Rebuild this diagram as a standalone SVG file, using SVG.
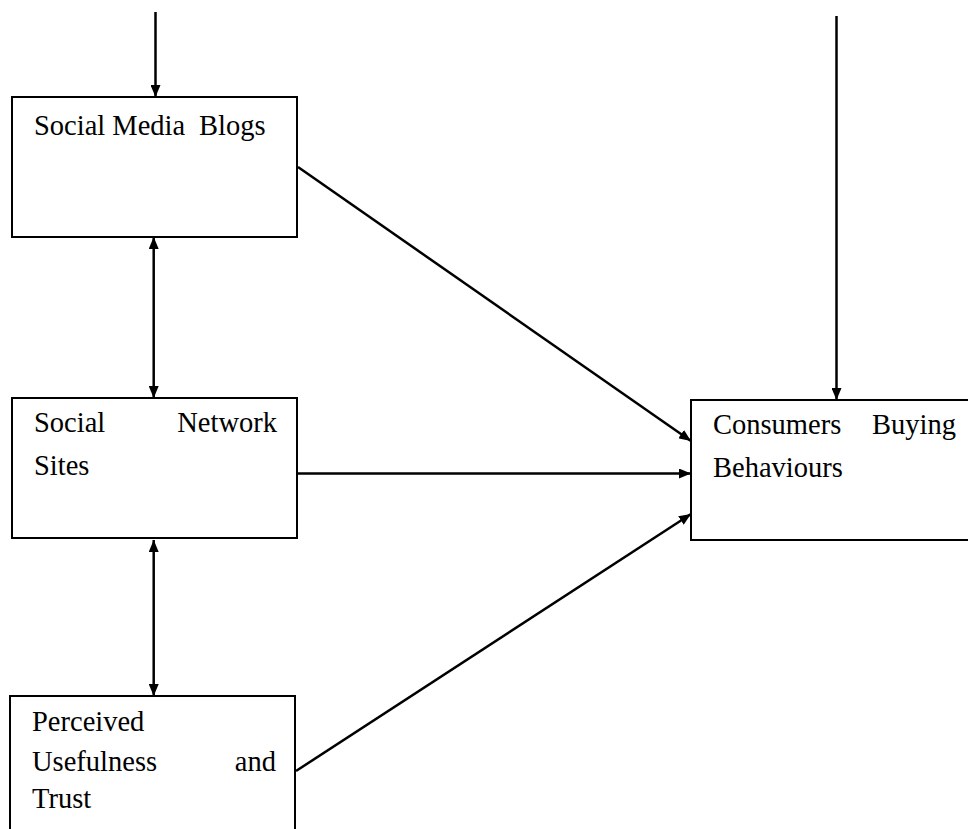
<svg xmlns="http://www.w3.org/2000/svg" width="968" height="829" viewBox="0 0 968 829">
<defs>
<style>
.box{fill:#fff;stroke:#000;stroke-width:2}
.lbl{font-family:"Liberation Serif","Times New Roman",serif;font-size:28.5px;fill:#000}
.c{stroke:#000;stroke-width:2.5;fill:none}
</style>
<marker id="ah" viewBox="0 0 12 10" refX="12" refY="5" markerWidth="12" markerHeight="10" markerUnits="userSpaceOnUse" orient="auto-start-reverse">
<path d="M0,0 L12,5 L0,10 Z" fill="#000"/>
</marker>
</defs>
<rect width="968" height="829" fill="#fff"/>
<g id="connectors">
<line class="c" x1="155.5" y1="12" x2="155.5" y2="97" marker-end="url(#ah)"/>
<line class="c" x1="836.5" y1="16" x2="836.5" y2="400" marker-end="url(#ah)"/>
<line class="c" x1="153.7" y1="237" x2="153.7" y2="398" marker-start="url(#ah)" marker-end="url(#ah)"/>
<line class="c" x1="153.7" y1="540" x2="153.7" y2="696" marker-start="url(#ah)" marker-end="url(#ah)"/>
<line class="c" x1="298" y1="167" x2="691" y2="441" marker-end="url(#ah)"/>
<line class="c" x1="298" y1="473.5" x2="691" y2="473.5" marker-end="url(#ah)"/>
<line class="c" x1="296" y1="771" x2="691" y2="514" marker-end="url(#ah)"/>
</g>
<g id="social-media-blogs">
<rect class="box" x="12" y="97" width="285" height="140"/>
<text class="lbl" x="34" y="135">Social Media</text>
<text class="lbl" x="199" y="135">Blogs</text>
</g>
<g id="social-network-sites">
<rect class="box" x="12" y="398" width="285" height="140"/>
<text class="lbl" x="34" y="432">Social</text>
<text class="lbl" x="277" y="432" text-anchor="end">Network</text>
<text class="lbl" x="34" y="475">Sites</text>
</g>
<g id="perceived-usefulness">
<rect class="box" x="10" y="696" width="285" height="160"/>
<text class="lbl" x="32" y="731">Perceived</text>
<text class="lbl" x="32" y="771">Usefulness</text>
<text class="lbl" x="276" y="771" text-anchor="end">and</text>
<text class="lbl" x="32" y="808">Trust</text>
</g>
<g id="consumers-buying">
<rect class="box" x="691" y="400" width="300" height="140"/>
<text class="lbl" x="713" y="434">Consumers</text>
<text class="lbl" x="956" y="434" text-anchor="end">Buying</text>
<text class="lbl" x="713" y="477">Behaviours</text>
</g>
</svg>
